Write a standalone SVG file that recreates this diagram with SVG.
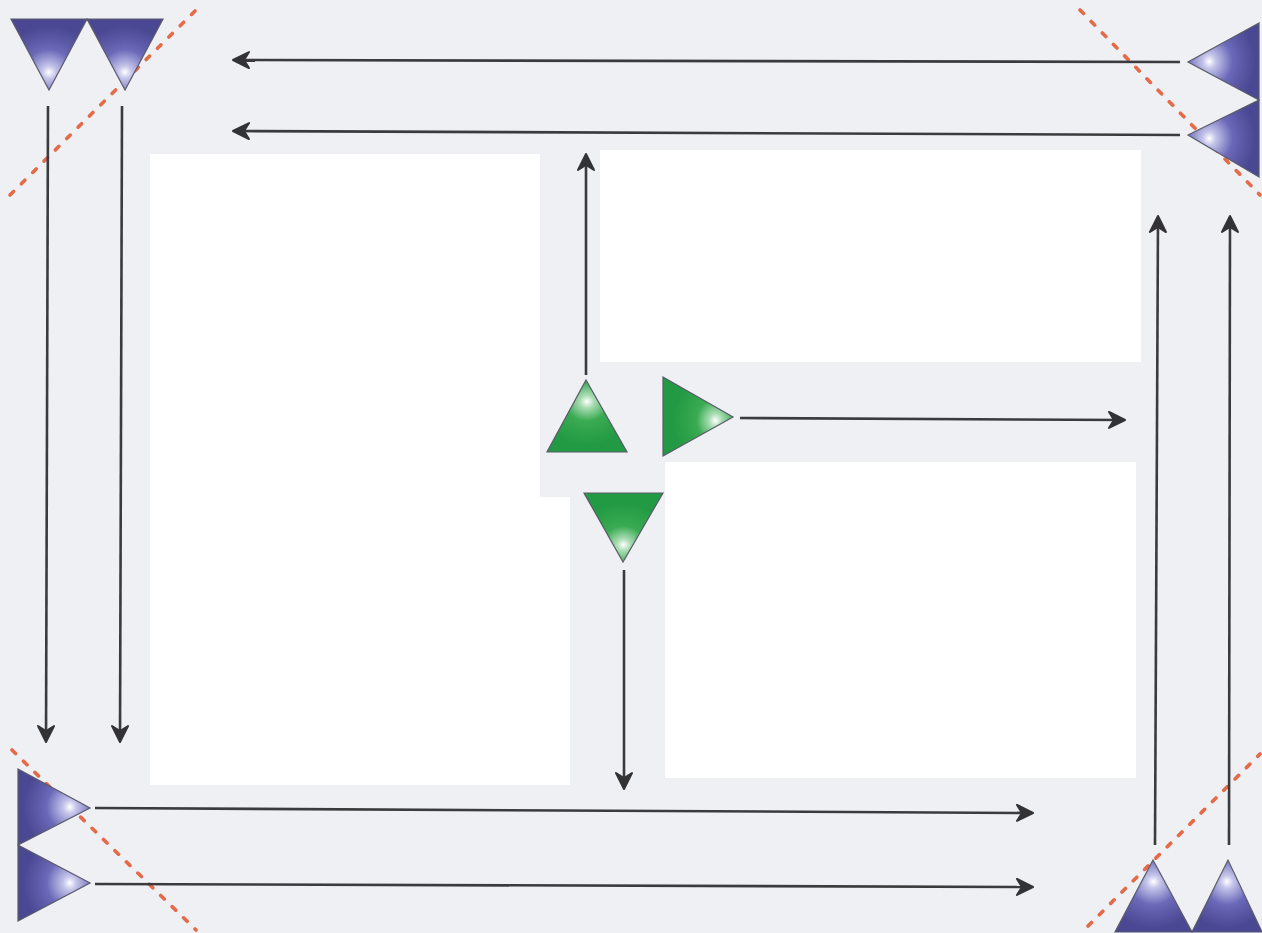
<svg xmlns="http://www.w3.org/2000/svg" width="1262" height="933" viewBox="0 0 1262 933">
<style>
.conn{stroke:#3b3b3d;stroke-width:2.6;fill:none;marker-end:url(#ah)}
.tri{stroke:#5a5a6a;stroke-width:1.2}
.dash{stroke:#e46a48;stroke-width:3.6;stroke-dasharray:5 11;fill:none;stroke-linecap:round}
.white{fill:#ffffff}
</style>
<defs>
<marker id="ah" viewBox="0 0 20 20" refX="16" refY="10" markerWidth="20" markerHeight="20" markerUnits="userSpaceOnUse" orient="auto">
<path d="M2,2 L18,10 L2,18 L7,10 Z" fill="#333335" stroke="#333335" stroke-width="2" stroke-linejoin="round"/>
</marker>
<radialGradient id="bDown" cx="0.5" cy="0.75" r="0.65"><stop offset="0" stop-color="#ffffff"/><stop offset="0.14" stop-color="#c4c4ea"/><stop offset="0.5" stop-color="#6a68b8"/><stop offset="1" stop-color="#4a4892"/></radialGradient>
<radialGradient id="bUp" cx="0.5" cy="0.3" r="0.65"><stop offset="0" stop-color="#ffffff"/><stop offset="0.14" stop-color="#c4c4ea"/><stop offset="0.5" stop-color="#6a68b8"/><stop offset="1" stop-color="#4a4892"/></radialGradient>
<radialGradient id="bLeft" cx="0.3" cy="0.5" r="0.65"><stop offset="0" stop-color="#ffffff"/><stop offset="0.14" stop-color="#c4c4ea"/><stop offset="0.5" stop-color="#6a68b8"/><stop offset="1" stop-color="#4a4892"/></radialGradient>
<radialGradient id="bRight" cx="0.72" cy="0.5" r="0.65"><stop offset="0" stop-color="#ffffff"/><stop offset="0.14" stop-color="#c4c4ea"/><stop offset="0.5" stop-color="#6a68b8"/><stop offset="1" stop-color="#4a4892"/></radialGradient>
<radialGradient id="gUp" cx="0.5" cy="0.3" r="0.6"><stop offset="0" stop-color="#ffffff"/><stop offset="0.15" stop-color="#a8dcb2"/><stop offset="0.45" stop-color="#3aab52"/><stop offset="1" stop-color="#229a43"/></radialGradient>
<radialGradient id="gDown" cx="0.5" cy="0.75" r="0.6"><stop offset="0" stop-color="#ffffff"/><stop offset="0.15" stop-color="#a8dcb2"/><stop offset="0.45" stop-color="#3aab52"/><stop offset="1" stop-color="#229a43"/></radialGradient>
<radialGradient id="gRight" cx="0.75" cy="0.55" r="0.6"><stop offset="0" stop-color="#ffffff"/><stop offset="0.15" stop-color="#a8dcb2"/><stop offset="0.45" stop-color="#3aab52"/><stop offset="1" stop-color="#229a43"/></radialGradient>
</defs>
<rect x="0" y="0" width="1262" height="933" fill="#eef0f4"/>
<g id="panels">
<path class="white" d="M150,154 H540 V497 H570 V785 H150 Z"/>
<rect class="white" x="600" y="150" width="541" height="212"/>
<rect class="white" x="665" y="462" width="471" height="316"/>
</g>
<g id="dashes">
<line class="dash" x1="10" y1="195" x2="198" y2="8"/>
<line class="dash" x1="1080" y1="10" x2="1260" y2="195"/>
<line class="dash" x1="12" y1="750" x2="196" y2="930"/>
<line class="dash" x1="1088" y1="926" x2="1260" y2="754"/>
</g>
<g id="connectors">
<line class="conn" x1="48" y1="106" x2="46" y2="740"/>
<line class="conn" x1="122" y1="106" x2="120" y2="740"/>
<line class="conn" x1="1180" y1="62" x2="235" y2="60"/>
<line class="conn" x1="1180" y1="135" x2="235" y2="131"/>
<line class="conn" x1="95" y1="808" x2="1031" y2="813"/>
<line class="conn" x1="95" y1="884" x2="1031" y2="887"/>
<line class="conn" x1="1155" y1="845" x2="1158" y2="218"/>
<line class="conn" x1="1229" y1="845" x2="1230" y2="218"/>
<line class="conn" x1="586" y1="375" x2="586" y2="156"/>
<line class="conn" x1="740" y1="418" x2="1123" y2="420"/>
<line class="conn" x1="624" y1="570" x2="624" y2="787"/>
</g>
<g id="node-tl1"><polygon class="tri" fill="url(#bDown)" points="11,19 87,19 49,90"/></g>
<g id="node-tl2"><polygon class="tri" fill="url(#bDown)" points="87,19 163,19 125,90"/></g>
<g id="node-tr1"><polygon class="tri" fill="url(#bLeft)" points="1259,23 1259,100 1188,62"/></g>
<g id="node-tr2"><polygon class="tri" fill="url(#bLeft)" points="1259,100 1259,177 1188,135"/></g>
<g id="node-bl1"><polygon class="tri" fill="url(#bRight)" points="18,769 18,845 90,808"/></g>
<g id="node-bl2"><polygon class="tri" fill="url(#bRight)" points="18,845 18,921 90,883"/></g>
<g id="node-br1"><polygon class="tri" fill="url(#bUp)" points="1115,932 1192,932 1153,860"/></g>
<g id="node-br2"><polygon class="tri" fill="url(#bUp)" points="1192,932 1262,932 1228,860"/></g>
<g id="node-gup"><polygon class="tri" fill="url(#gUp)" points="547,452 627,452 586,380"/></g>
<g id="node-gright"><polygon class="tri" fill="url(#gRight)" points="663,377 663,456 733,417"/></g>
<g id="node-gdown"><polygon class="tri" fill="url(#gDown)" points="584,493 663,493 623,562"/></g>
</svg>
